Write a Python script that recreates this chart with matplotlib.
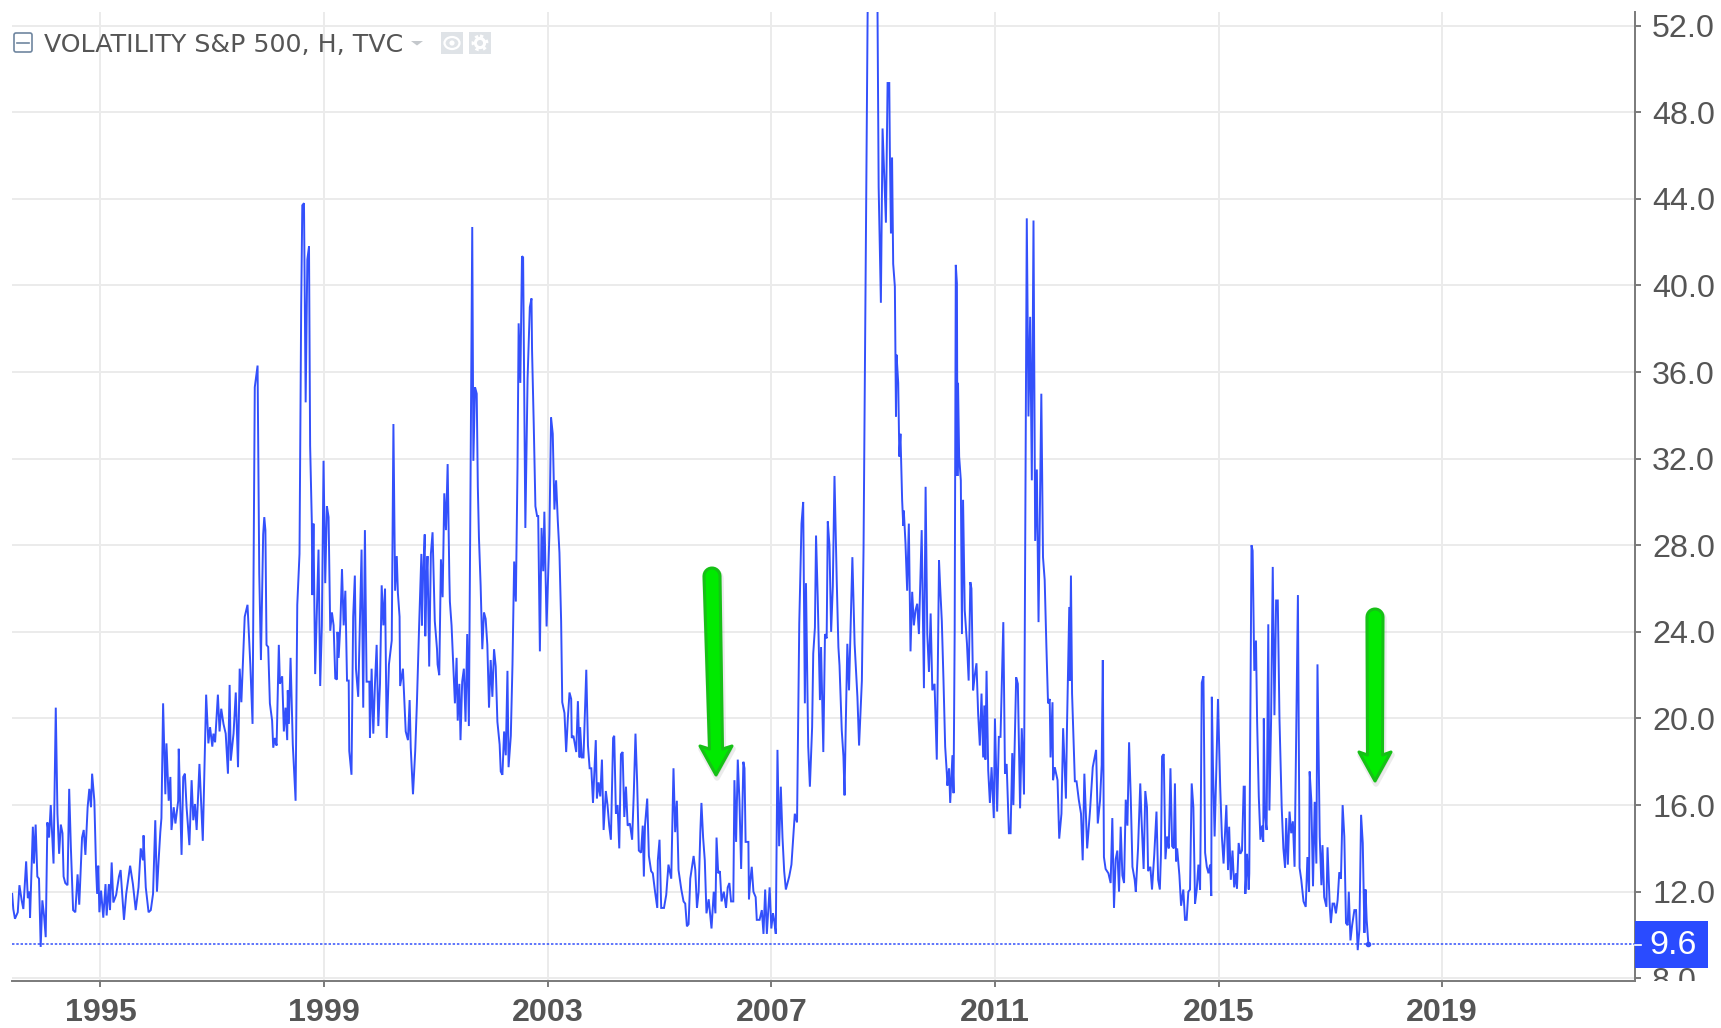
"""
VIX weekly line chart with two green arrows, TradingView look
"""
import matplotlib
matplotlib.use("Agg")
import matplotlib.pyplot as plt
import numpy as np
from matplotlib.patches import Circle, Ellipse, FancyBboxPatch, Polygon, Rectangle
from matplotlib.transforms import Affine2D, Bbox

WIDTH, HEIGHT = 1721, 1028

# values, dates are decimal years
dates_1993 = [
    1993.42, 1993.44, 1993.47, 1993.52, 1993.55, 1993.59, 1993.62, 1993.67, 1993.70, 1993.73,
    1993.74, 1993.79, 1993.81, 1993.84, 1993.87, 1993.90, 1993.93, 1993.96, 1993.99, 1994.02,
    1994.05, 1994.08, 1994.11, 1994.16, 1994.20, 1994.23, 1994.26, 1994.29, 1994.32, 1994.34,
    1994.37, 1994.41, 1994.44, 1994.47, 1994.51, 1994.55, 1994.59, 1994.62, 1994.67, 1994.70,
    1994.73, 1994.77, 1994.80, 1994.83, 1994.85, 1994.89, 1994.92, 1994.94, 1994.96, 1994.98,
    1995.01, 1995.05, 1995.09, 1995.11, 1995.15, 1995.17, 1995.20, 1995.23, 1995.28, 1995.33,
    1995.36, 1995.38, 1995.42, 1995.46, 1995.53, 1995.58, 1995.63, 1995.68, 1995.72, 1995.76,
    1995.77, 1995.81, 1995.86, 1995.90, 1995.94, 1995.98, 1996.01, 1996.04, 1996.07, 1996.09,
    1996.12, 1996.16, 1996.18, 1996.22, 1996.25, 1996.27, 1996.31, 1996.34, 1996.39, 1996.40,
    1996.45, 1996.48, 1996.51, 1996.54, 1996.59, 1996.63, 1996.66, 1996.69, 1996.72, 1996.77,
    1996.83, 1996.89, 1996.93, 1996.96, 1997.00, 1997.02, 1997.05, 1997.10, 1997.13, 1997.16,
    1997.20, 1997.24, 1997.28, 1997.31, 1997.33, 1997.38, 1997.42, 1997.46, 1997.49, 1997.52,
]
vix_1993 = [
    11.9, 11.2, 10.75, 11.05, 12.3, 11.6, 11.2, 13.4, 11.7, 12.0,
    10.8, 15.0, 13.3, 15.1, 12.7, 12.6, 9.45, 11.6, 10.9, 9.9,
    15.2, 14.5, 16.0, 13.3, 20.5, 15.6, 13.75, 15.1, 14.7, 12.7,
    12.4, 12.3, 16.75, 14.05, 11.15, 11.05, 12.8, 11.4, 14.5, 14.85,
    13.7, 15.9, 16.75, 15.9, 17.45, 16.2, 13.15, 11.9, 13.2, 11.05,
    12.05, 10.8, 12.35, 10.9, 12.35, 11.15, 13.35, 11.5, 11.85, 12.7,
    13.0, 12.2, 10.7, 11.9, 13.2, 12.35, 11.15, 12.2, 14.0, 13.45,
    14.6, 12.2, 11.05, 11.15, 11.9, 15.3, 12.0, 13.45, 14.75, 15.4,
    20.7, 16.5, 18.85, 16.2, 17.3, 14.85, 15.9, 15.15, 16.2, 18.6,
    13.7, 17.3, 17.45, 15.9, 14.15, 17.15, 15.3, 16.05, 14.85, 17.9,
    14.35, 21.1, 18.85, 19.6, 18.7, 19.3, 18.9, 21.1, 19.4, 20.45,
    19.75, 19.3, 17.45, 21.55, 18.05, 19.3, 21.2, 17.75, 22.3, 20.75,
]

dates_1997 = [
    1997.58, 1997.63, 1997.68, 1997.72, 1997.76, 1997.81, 1997.84, 1997.87, 1997.91, 1997.93,
    1997.95, 1997.97, 1998.00, 1998.03, 1998.07, 1998.09, 1998.12, 1998.15, 1998.19, 1998.21,
    1998.25, 1998.28, 1998.31, 1998.34, 1998.35, 1998.37, 1998.40, 1998.44, 1998.49, 1998.52,
    1998.56, 1998.59, 1998.61, 1998.64, 1998.67, 1998.70, 1998.73, 1998.75, 1998.78, 1998.79,
    1998.81, 1998.84, 1998.88, 1998.90, 1998.93, 1998.96, 1998.99, 1999.02, 1999.05, 1999.08,
    1999.11, 1999.14, 1999.17, 1999.20, 1999.23, 1999.24, 1999.26, 1999.29, 1999.32, 1999.35,
    1999.38, 1999.41, 1999.44, 1999.45, 1999.49, 1999.52, 1999.55, 1999.57, 1999.61, 1999.67,
    1999.70, 1999.73, 1999.76, 1999.81, 1999.82, 1999.85, 1999.88, 1999.91, 1999.94, 1999.97,
]
vix_1997 = [
    24.7, 25.25, 22.5, 19.75, 35.3, 36.3, 26.7, 22.7, 28.5, 29.3,
    28.7, 23.4, 23.3, 20.7, 19.9, 18.65, 19.1, 18.75, 23.4, 21.6,
    21.95, 19.4, 20.5, 19.0, 21.3, 19.75, 22.8, 18.8, 16.2, 25.25,
    27.6, 39.0, 43.7, 43.8, 34.6, 41.2, 41.8, 32.6, 29.1, 25.7,
    29.0, 22.05, 25.8, 27.8, 21.5, 24.3, 31.9, 26.25, 29.8, 29.3,
    24.05, 24.9, 24.3, 21.85, 21.8, 24.0, 22.8, 24.3, 26.9, 24.3,
    25.9, 21.75, 21.75, 18.5, 17.4, 24.7, 26.6, 22.3, 21.0, 27.8,
    20.5, 28.7, 21.7, 21.7, 19.1, 22.3, 19.3, 21.6, 23.4, 19.65,
]

dates_2000 = [
    2000.00, 2000.03, 2000.06, 2000.09, 2000.12, 2000.16, 2000.21, 2000.24, 2000.27, 2000.30,
    2000.32, 2000.35, 2000.36, 2000.41, 2000.44, 2000.46, 2000.50, 2000.53, 2000.55, 2000.59,
    2000.63, 2000.66, 2000.70, 2000.74, 2000.75, 2000.77, 2000.80, 2000.81, 2000.83, 2000.85,
    2000.88, 2000.91, 2000.94, 2000.98, 2001.02, 2001.03, 2001.06, 2001.09, 2001.12, 2001.15,
    2001.18, 2001.21, 2001.24, 2001.25, 2001.28, 2001.31, 2001.34, 2001.37, 2001.39, 2001.42,
    2001.44, 2001.47, 2001.50, 2001.53, 2001.56, 2001.59, 2001.62, 2001.65, 2001.67, 2001.70,
    2001.73, 2001.75, 2001.77, 2001.80, 2001.83, 2001.86, 2001.89, 2001.92, 2001.95, 2001.98,
    2002.01, 2002.04, 2002.07, 2002.10, 2002.14, 2002.16, 2002.19, 2002.22, 2002.25, 2002.28,
    2002.30, 2002.34, 2002.37, 2002.40, 2002.43, 2002.46, 2002.48, 2002.51, 2002.54, 2002.56,
    2002.60, 2002.64, 2002.68, 2002.71, 2002.72, 2002.75, 2002.78, 2002.81, 2002.83, 2002.86,
    2002.89, 2002.92, 2002.94, 2002.98,
]
vix_2000 = [
    21.6, 26.15, 24.3, 26.0, 19.1, 22.5, 23.6, 33.6, 25.9, 27.5,
    25.8, 24.7, 21.5, 22.3, 20.5, 19.4, 19.0, 20.85, 18.65, 16.5,
    18.5, 20.7, 24.3, 27.6, 24.3, 26.5, 28.5, 23.8, 26.3, 27.5,
    22.4, 27.6, 28.6, 24.5, 23.2, 22.5, 22.0, 27.35, 25.6, 30.4,
    28.7, 31.75, 26.6, 25.4, 24.3, 22.5, 20.7, 22.8, 19.9, 21.6,
    19.0, 21.7, 22.3, 19.85, 23.9, 19.65, 31.1, 42.7, 31.9, 35.3,
    35.0, 30.7, 28.35, 26.15, 23.2, 24.9, 24.6, 23.4, 20.5, 22.7,
    21.0, 23.2, 22.4, 19.85, 18.8, 17.55, 17.4, 19.4, 18.3, 22.2,
    17.75, 19.2, 22.5, 27.25, 25.4, 31.65, 38.25, 35.5, 41.35, 41.3,
    28.8, 35.7, 39.0, 39.4, 37.0, 33.6, 29.8, 29.35, 29.35, 23.1,
    28.8, 26.8, 29.55, 24.25,
]

dates_2003 = [
    2003.03, 2003.06, 2003.09, 2003.12, 2003.15, 2003.18, 2003.21, 2003.24, 2003.26, 2003.30,
    2003.33, 2003.36, 2003.39, 2003.42, 2003.43, 2003.46, 2003.51, 2003.54, 2003.57, 2003.58,
    2003.61, 2003.64, 2003.69, 2003.72, 2003.75, 2003.78, 2003.81, 2003.86, 2003.88, 2003.91,
    2003.94, 2003.97, 2004.00, 2004.04, 2004.07, 2004.10, 2004.13, 2004.17, 2004.19, 2004.22,
    2004.25, 2004.28, 2004.31, 2004.34, 2004.37, 2004.40, 2004.43, 2004.47, 2004.51, 2004.54,
    2004.57, 2004.60, 2004.63, 2004.67, 2004.70, 2004.72, 2004.74, 2004.78, 2004.81, 2004.85,
    2004.88, 2004.92, 2004.96, 2004.97, 2005.00, 2005.03, 2005.08, 2005.12, 2005.16, 2005.21,
    2005.25, 2005.28, 2005.31, 2005.34, 2005.39, 2005.43, 2005.46, 2005.49, 2005.52, 2005.55,
    2005.61, 2005.64, 2005.67, 2005.70, 2005.73, 2005.75, 2005.78, 2005.81, 2005.84, 2005.88,
    2005.93, 2005.97, 2006.00, 2006.02, 2006.05, 2006.08, 2006.11, 2006.15, 2006.19, 2006.22,
    2006.25, 2006.28, 2006.32, 2006.34, 2006.37, 2006.40, 2006.43, 2006.46, 2006.50, 2006.52,
    2006.54, 2006.59, 2006.60, 2006.62, 2006.65, 2006.68, 2006.72, 2006.74, 2006.79, 2006.83,
    2006.86, 2006.89, 2006.92, 2006.97, 2007.00, 2007.03, 2007.05, 2007.08, 2007.11, 2007.14,
    2007.17, 2007.20, 2007.23, 2007.26, 2007.32, 2007.36, 2007.40, 2007.42, 2007.46,
]
vix_2003 = [
    28.5, 33.9, 33.15, 29.65, 31.0, 29.15, 27.65, 24.5, 20.75, 20.25,
    18.45, 20.0, 21.2, 20.9, 19.1, 19.2, 18.45, 20.8, 18.2, 19.6,
    18.2, 18.2, 22.25, 18.75, 17.7, 17.7, 16.1, 19.0, 16.3, 17.05,
    16.4, 18.1, 14.85, 16.65, 16.0, 15.05, 14.4, 19.1, 19.2, 15.6,
    16.0, 14.0, 18.35, 18.45, 15.45, 16.85, 15.05, 15.15, 14.4, 16.55,
    19.3, 17.05, 13.9, 13.8, 15.05, 12.7, 15.05, 16.3, 13.65, 12.95,
    12.85, 12.0, 11.25, 13.45, 14.4, 11.25, 11.25, 11.85, 13.25, 12.6,
    17.7, 14.75, 16.2, 13.0, 12.1, 11.55, 11.45, 10.4, 10.5, 12.6,
    13.65, 13.0, 11.25, 12.0, 14.75, 16.1, 14.5, 13.45, 11.0, 11.65,
    10.3, 12.0, 11.0, 14.5, 12.85, 12.95, 11.55, 12.0, 11.25, 12.2,
    12.4, 11.55, 11.55, 17.15, 14.3, 18.1, 16.2, 13.05, 18.0, 17.7,
    14.3, 14.3, 11.65, 12.4, 13.15, 12.0, 11.75, 10.7, 10.7, 11.15,
    10.05, 12.1, 10.05, 12.2, 10.3, 11.0, 10.7, 10.05, 18.55, 14.1,
    16.85, 14.5, 12.95, 12.1, 12.7, 13.25, 14.85, 15.6, 15.2,
]

dates_2007 = [
    2007.50, 2007.54, 2007.57, 2007.60, 2007.62, 2007.66, 2007.69, 2007.73, 2007.75, 2007.78,
    2007.80, 2007.83, 2007.87, 2007.89, 2007.93, 2007.96, 2007.99, 2008.01, 2008.04, 2008.07,
    2008.10, 2008.13, 2008.17, 2008.20, 2008.22, 2008.26, 2008.29, 2008.31, 2008.33, 2008.36,
    2008.39, 2008.41, 2008.45, 2008.49, 2008.54, 2008.57, 2008.62, 2008.65, 2008.73, 2008.78,
    2008.85, 2008.90, 2008.92, 2008.96, 2008.99, 2009.05, 2009.08, 2009.11, 2009.12, 2009.14,
    2009.16, 2009.18, 2009.21, 2009.23, 2009.24, 2009.27, 2009.29, 2009.31, 2009.34, 2009.36,
    2009.37, 2009.40, 2009.43, 2009.46, 2009.49, 2009.52, 2009.55, 2009.58, 2009.61, 2009.64,
    2009.69, 2009.73, 2009.76, 2009.79, 2009.82, 2009.85, 2009.88, 2009.92, 2009.96, 2010.00,
    2010.02, 2010.05, 2010.08, 2010.11, 2010.14, 2010.15, 2010.18, 2010.20, 2010.24, 2010.26,
    2010.28, 2010.30, 2010.32, 2010.33, 2010.34, 2010.36, 2010.39, 2010.41, 2010.43, 2010.46,
    2010.50, 2010.53, 2010.56, 2010.58, 2010.61, 2010.64, 2010.67, 2010.70, 2010.73, 2010.76,
    2010.79, 2010.81, 2010.83, 2010.85, 2010.88, 2010.91, 2010.94, 2010.98,
]
vix_2007 = [
    24.4, 29.0, 30.0, 20.7, 26.25, 18.7, 16.85, 19.6, 23.0, 24.2,
    28.45, 25.6, 20.85, 23.3, 18.45, 23.9, 23.7, 29.1, 28.0, 24.0,
    26.1, 31.2, 26.4, 23.3, 22.45, 19.45, 18.25, 16.45, 19.45, 23.45,
    21.3, 23.3, 27.45, 23.45, 21.0, 18.75, 21.75, 27.9, 55.0, 79.0,
    70.0, 52.6, 44.55, 39.2, 47.25, 42.9, 49.35, 49.35, 46.35, 42.4,
    45.9, 41.0, 39.95, 33.95, 36.8, 35.5, 32.1, 33.15, 30.1, 28.9,
    29.6, 28.1, 25.9, 29.0, 23.1, 25.85, 24.3, 25.0, 25.3, 23.9,
    28.7, 21.4, 30.7, 23.9, 22.15, 24.85, 21.3, 21.6, 18.1, 27.3,
    26.1, 24.5, 21.75, 18.7, 17.45, 16.9, 17.7, 16.1, 18.3, 16.55,
    24.0, 40.95, 40.1, 31.2, 35.5, 32.1, 31.0, 23.9, 30.1, 25.0,
    23.45, 21.75, 26.3, 26.0, 21.3, 22.0, 22.55, 20.2, 18.75, 21.15,
    18.2, 20.6, 18.1, 22.2, 17.6, 16.1, 17.75, 15.4,
]

dates_2011 = [
    2011.00, 2011.04, 2011.07, 2011.10, 2011.15, 2011.18, 2011.21, 2011.25, 2011.28, 2011.31,
    2011.33, 2011.38, 2011.41, 2011.45, 2011.48, 2011.51, 2011.52, 2011.57, 2011.60, 2011.63,
    2011.66, 2011.69, 2011.70, 2011.72, 2011.75, 2011.78, 2011.81, 2011.83, 2011.86, 2011.89,
    2011.92, 2011.95, 2011.98, 2011.995, 2012.03, 2012.04, 2012.07, 2012.12, 2012.15, 2012.19,
    2012.22, 2012.27, 2012.29, 2012.33, 2012.34, 2012.36, 2012.38, 2012.43, 2012.46, 2012.50,
    2012.54, 2012.57, 2012.60, 2012.65, 2012.70, 2012.75, 2012.81, 2012.84, 2012.88, 2012.91,
    2012.93, 2012.95, 2012.98, 2013.03, 2013.07, 2013.10, 2013.13, 2013.16, 2013.19, 2013.22,
    2013.25, 2013.28, 2013.31, 2013.34, 2013.37, 2013.40, 2013.43, 2013.46, 2013.50, 2013.52,
    2013.56, 2013.60, 2013.62, 2013.66, 2013.69, 2013.72, 2013.74, 2013.78, 2013.81, 2013.85,
    2013.89, 2013.92, 2013.95, 2013.97, 2013.99, 2014.02, 2014.05, 2014.08, 2014.11, 2014.14,
    2014.17, 2014.20, 2014.22, 2014.24, 2014.26, 2014.30, 2014.33, 2014.37, 2014.40, 2014.43,
    2014.46, 2014.49, 2014.52, 2014.55, 2014.58, 2014.61, 2014.64, 2014.67, 2014.68, 2014.70,
    2014.73, 2014.76, 2014.79, 2014.82, 2014.85, 2014.87, 2014.88, 2014.90, 2014.93, 2014.96,
    2014.99,
]
vix_2011 = [
    20.0, 15.7, 19.15, 19.15, 24.45, 17.45, 17.9, 14.7, 14.7, 18.4,
    16.0, 21.9, 21.6, 15.85, 19.55, 17.45, 16.5, 43.1, 33.95, 38.55,
    31.0, 43.0, 38.0, 28.2, 31.5, 24.45, 31.0, 35.0, 27.45, 26.4,
    23.4, 20.7, 20.9, 18.2, 20.75, 17.15, 17.75, 17.15, 14.45, 15.6,
    19.55, 16.3, 19.75, 25.15, 21.75, 26.6, 21.15, 17.1, 17.1, 16.25,
    15.6, 13.45, 17.45, 14.0, 15.7, 17.75, 18.55, 15.15, 16.2, 17.85,
    22.7, 13.6, 13.05, 12.85, 12.4, 15.4, 11.25, 13.5, 13.9, 12.0,
    15.0, 12.75, 12.4, 16.25, 15.05, 18.9, 16.35, 13.15, 12.55, 12.0,
    14.0, 17.0, 15.5, 13.05, 16.65, 15.9, 12.95, 13.15, 12.1, 13.7,
    15.7, 12.55, 12.1, 13.7, 18.25, 18.35, 13.5, 14.55, 14.0, 17.7,
    14.1, 14.0, 17.0, 13.4, 14.0, 12.75, 11.35, 12.1, 10.7, 10.7,
    12.0, 12.1, 17.0, 15.9, 11.45, 12.1, 13.25, 12.1, 14.75, 21.65,
    21.95, 13.8, 13.15, 12.85, 13.25, 11.8, 21.0, 17.85, 14.55, 17.6,
    20.9,
]

dates_2015 = [
    2015.03, 2015.06, 2015.09, 2015.14, 2015.17, 2015.19, 2015.22, 2015.25, 2015.28, 2015.31,
    2015.33, 2015.36, 2015.39, 2015.42, 2015.45, 2015.47, 2015.48, 2015.51, 2015.54, 2015.55,
    2015.59, 2015.61, 2015.64, 2015.67, 2015.69, 2015.72, 2015.75, 2015.78, 2015.80, 2015.81,
    2015.83, 2015.86, 2015.89, 2015.91, 2015.94, 2015.97, 2016.00, 2016.03, 2016.06, 2016.09,
    2016.13, 2016.16, 2016.19, 2016.21, 2016.24, 2016.27, 2016.30, 2016.33, 2016.36, 2016.42,
    2016.45, 2016.48, 2016.52, 2016.56, 2016.59, 2016.62, 2016.63, 2016.66, 2016.69, 2016.72,
    2016.75, 2016.77, 2016.81, 2016.84, 2016.86, 2016.89, 2016.93, 2016.95, 2016.99, 2017.01,
    2017.04, 2017.07, 2017.10, 2017.13, 2017.16, 2017.19, 2017.22, 2017.25, 2017.28, 2017.31,
    2017.33, 2017.36, 2017.39, 2017.43, 2017.46, 2017.49, 2017.52, 2017.55, 2017.58, 2017.61,
    2017.63, 2017.65, 2017.68,
]
vix_2015 = [
    16.85, 14.55, 13.3, 16.0, 13.0, 15.0, 12.55, 13.9, 12.2, 12.85,
    12.15, 14.25, 13.75, 13.9, 16.85, 16.85, 11.9, 13.75, 12.1, 12.85,
    28.0, 27.75, 22.2, 23.6, 19.9, 16.4, 14.4, 15.05, 14.3, 20.0,
    15.6, 14.85, 24.35, 15.75, 19.9, 27.0, 20.15, 25.45, 25.45, 20.0,
    15.9, 14.0, 13.1, 15.4, 13.25, 15.7, 14.7, 15.25, 13.15, 25.7,
    13.1, 12.55, 11.55, 11.3, 13.6, 12.0, 17.55, 16.2, 12.25, 16.15,
    13.3, 22.5, 14.55, 12.3, 14.15, 11.75, 11.3, 14.05, 11.3, 10.55,
    11.45, 11.45, 11.0, 11.6, 12.9, 12.6, 16.0, 14.55, 10.55, 10.45,
    12.0, 9.75, 10.45, 11.15, 11.15, 9.3, 10.25, 15.55, 14.25, 10.1,
    12.1, 10.7, 9.6,
]

dates = dates_1993 + dates_1997 + dates_2000 + dates_2003 + dates_2007 + dates_2011 + dates_2015
vix = vix_1993 + vix_1997 + vix_2000 + vix_2003 + vix_2007 + vix_2011 + vix_2015

last_value = 9.57
x_ticks = [1995, 1999, 2003, 2007, 2011, 2015, 2019]
y_ticks = [8, 12, 16, 20, 24, 28, 32, 36, 40, 44, 48, 52]

LINE_BLUE = "#3350fb"
GRID = "#ebebeb"
TEXT_GREY = "#555555"
AXIS_GREY = "#7a7a7a"

plt.rcParams["font.family"] = ["Liberation Sans", "DejaVu Sans"]

fig = plt.figure(figsize=(WIDTH / 100, HEIGHT / 100), dpi=100, facecolor="white")
ax = fig.add_axes([12 / WIDTH, 1 - 981 / HEIGHT, (1635 - 12) / WIDTH, (981 - 12) / HEIGHT])

# pixel coordinates of the reference, origin top left, for the decorations
px = Affine2D().scale(1 / WIDTH, -1 / HEIGHT).translate(0, 1) + fig.transFigure

ax.set_xlim(1993.417, 2022.45)
ax.set_ylim(7.875, 52.63)
ax.set_axisbelow(True)
ax.grid(True, color=GRID, linewidth=1.4)

ax.plot(dates, vix, color=LINE_BLUE, linewidth=1.4, solid_joinstyle="miter", zorder=3)
ax.axhline(last_value, color=LINE_BLUE, linewidth=1.1, linestyle=(0, (1.6, 1.2)), zorder=3)
ax.plot([dates[-1]], [last_value], marker="o", markersize=3, color=LINE_BLUE, zorder=3)

ax.spines["top"].set_visible(False)
ax.spines["left"].set_visible(False)
for side in ("right", "bottom"):
    ax.spines[side].set_color(AXIS_GREY)
    ax.spines[side].set_linewidth(1.4)

ax.yaxis.tick_right()
ax.set_xticks(x_ticks)
ax.set_xticklabels([str(year) for year in x_ticks], fontweight="bold", fontsize=23.2, color=TEXT_GREY)
ax.set_yticks(y_ticks)
ax.set_yticklabels([f"{tick:.1f}" for tick in y_ticks], fontsize=23.2, color=TEXT_GREY)
ax.tick_params(axis="x", length=4.3, width=1.4, color=AXIS_GREY, pad=8)
ax.tick_params(axis="y", length=4.3, width=1.4, color=AXIS_GREY, pad=8)

# the 8.0 label is cut by the bottom of the price scale
for label in ax.get_yticklabels():
    if label.get_text() == "8.0":
        label.set_clip_on(True)
        label.set_clip_box(Bbox.from_extents(1636, HEIGHT - 981, WIDTH, HEIGHT))

# last price box
fig.add_artist(Rectangle((1635, 921), 73, 47, transform=px, facecolor="#2a4bff", edgecolor="none", zorder=5))
fig.add_artist(plt.Line2D([1635, 1641], [944.5, 944.5], transform=px, color="white", linewidth=1.2, zorder=6))
fig.text(1673, 945.5, "9.6", transform=px, color="white", fontsize=24.5, ha="center", va="center", zorder=6)

# legend line
fig.add_artist(FancyBboxPatch((14, 33), 18, 19, boxstyle="round,pad=0,rounding_size=2", transform=px,
                              facecolor="white", edgecolor="#6f86a0", linewidth=1.2, zorder=4))
fig.add_artist(plt.Line2D([17, 29], [42.5, 42.5], transform=px, color="#6f86a0", linewidth=1.2, zorder=5))
fig.text(44, 45, "VOLATILITY S&P 500, H, TVC", transform=px, family="DejaVu Sans", color=TEXT_GREY,
         fontsize=18.2, ha="left", va="center", zorder=5)
fig.add_artist(Polygon([(411, 41), (423, 41), (417, 45.5)], transform=px, facecolor="#c4c8cc",
                       edgecolor="none", zorder=4))
for left in (441, 469):
    fig.add_artist(Rectangle((left, 32), 22, 22, transform=px, facecolor="#dfe3e7", edgecolor="none", zorder=4))
fig.add_artist(Ellipse((452, 43), 15, 12, transform=px, facecolor="none", edgecolor="white", linewidth=1.6, zorder=5))
fig.add_artist(Circle((452, 43), 2.6, transform=px, facecolor="white", edgecolor="none", zorder=5))
fig.add_artist(Circle((480, 43), 4.6, transform=px, facecolor="none", edgecolor="white", linewidth=2.2, zorder=5))
fig.add_artist(Circle((480, 43), 7, transform=px, facecolor="none", edgecolor="white", linewidth=2,
                      linestyle=(0, (1.2, 1.6)), zorder=5))


def green_arrow(top_x, top_y, tip_x, tip_y, base_y, half_head, half_top, half_low):
    """
    draw the hand placed green arrow with a rounded top and a soft shadow
    :return: None
    """
    angles = np.linspace(np.pi, 0, 14)
    cap = [(top_x + half_top * np.cos(a), top_y + half_top - half_top * np.sin(a)) for a in angles]
    outline = cap + [
        (tip_x + half_low, base_y),
        (tip_x + half_head, base_y - 3),
        (tip_x, tip_y),
        (tip_x - half_head, base_y - 3),
        (tip_x - half_low, base_y),
    ]
    shifted = [(x + 1, y + 3) for x, y in outline]
    fig.add_artist(Polygon(shifted, transform=px, facecolor="#777777", edgecolor="#777777", alpha=0.14,
                           linewidth=4, joinstyle="round", zorder=6))
    fig.add_artist(Polygon(outline, transform=px, facecolor="#00ea00", edgecolor="#16c016",
                           linewidth=2.2, joinstyle="round", zorder=7))


green_arrow(712, 568, 716, 775, 749, 16, 8, 6.5)
green_arrow(1375, 609, 1375, 781, 755, 16, 8, 7.5)

fig.savefig("out.png", dpi=100, facecolor="white")
